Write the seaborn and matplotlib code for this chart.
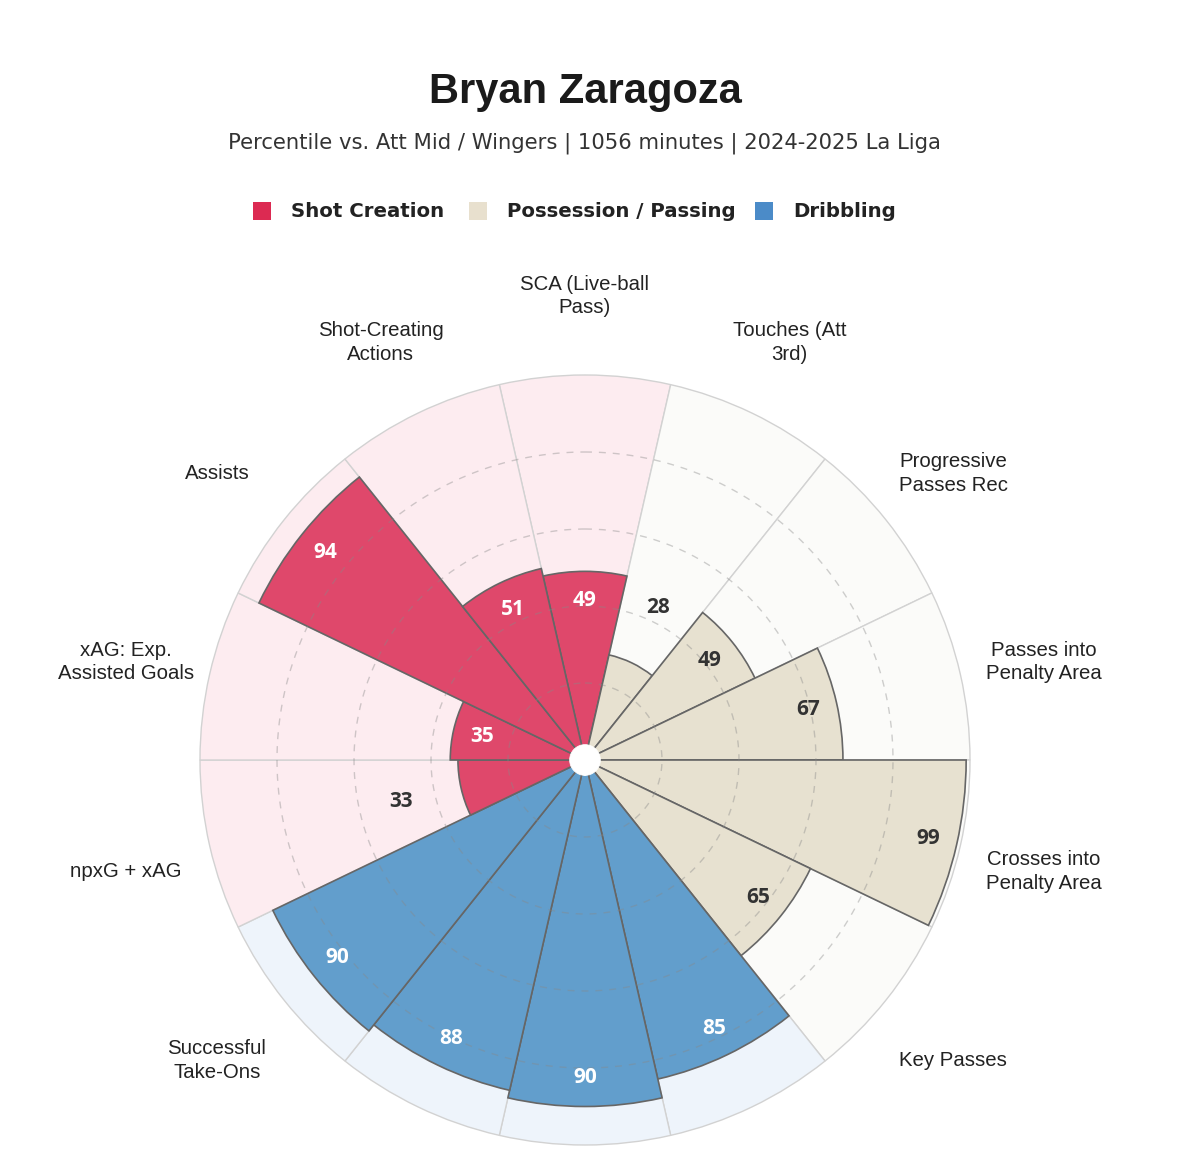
import numpy as np
import matplotlib.pyplot as plt
import seaborn as sns
from matplotlib.patches import Rectangle

sns.set_theme(style="white")
plt.rcParams['font.family'] = ['Liberation Sans', 'DejaVu Sans']

player = "Bryan Zaragoza"
subtitle = "Percentile vs. Att Mid / Wingers | 1056 minutes | 2024-2025 La Liga"

# clockwise from the top
stats = ["SCA (Live-ball\nPass)", "Touches (Att\n3rd)", "Progressive\nPasses Rec",
         "Passes into\nPenalty Area", "Crosses into\nPenalty Area", "Key Passes",
         "", "", "", "Successful\nTake-Ons", "npxG + xAG",
         "xAG: Exp.\nAssisted Goals", "Assists", "Shot-Creating\nActions"]
percentiles = [49, 28, 49, 67, 99, 65, 85, 90, 88, 90, 33, 35, 94, 51]
group_idx = [0, 1, 1, 1, 1, 1, 2, 2, 2, 2, 0, 0, 0, 0]
group_names = ["Shot Creation", "Possession / Passing", "Dribbling"]

bar_pal = sns.color_palette(["#DF486B", "#E7E1D0", "#629ECC"])
bg_pal = sns.color_palette(["#FDECF0", "#FBFBF9", "#EEF4FB"])
legend_pal = sns.color_palette(["#DC2A52", "#E8E0CE", "#4B8BC8"])

W, H = 1200, 1162
fig = plt.figure(figsize=(12, 11.62), dpi=100)
fig.patch.set_facecolor('white')

# polar axes: centre at (585, 760) px, r=100 -> 385 px
rmax = 102
R = 385 * rmax / 100
cx, cy = 585, H - 760
ax = fig.add_axes([(cx - R) / W, (cy - R) / H, 2 * R / W, 2 * R / H], projection='polar')
ax.set_theta_zero_location('N')
ax.set_theta_direction(-1)
ax.set_ylim(0, rmax)
ax.set_axis_off()

n = len(percentiles)
theta = np.arange(n) * 2 * np.pi / n
width = 2 * np.pi / n

ax.bar(theta, [100] * n, width=width, color=[bg_pal[g] for g in group_idx],
       edgecolor='#d2d2d2', linewidth=1, zorder=1)
ax.bar(theta, percentiles, width=width, color=[bar_pal[g] for g in group_idx],
       edgecolor='#666666', linewidth=1.2, zorder=2)

# dashed rings
t = np.linspace(0, 2 * np.pi, 500)
for r in [20, 40, 60, 80]:
    ax.plot(t, np.full_like(t, r), ls=(0, (5, 5)), color='#888888', alpha=0.4, lw=1, zorder=3)

# white hub
ax.bar(0, 4, width=2 * np.pi, color='white', edgecolor='white', linewidth=0.5, zorder=4)

for th, v, g in zip(theta, percentiles, group_idx):
    if v < 34:
        r, c = v + 16, '#333333'
    else:
        r, c = v - 7.6, ('#333333' if g == 1 else 'white')
    ax.text(th, r, str(v), ha='center', va='center', fontsize=15, fontweight='bold',
            family='Open Sans', color=c, zorder=5)

for th, lab in zip(theta, stats):
    ax.annotate(lab, xy=(th, 122.3), xytext=(0, -5), textcoords='offset points',
                ha='center', va='center', fontsize=14.7, color='#222222',
                linespacing=1.3, annotation_clip=False)

fig.text(585 / W, 1 - 92 / H, player, ha='center', va='center', fontsize=30,
         fontweight='bold', color='#1a1a1a')
fig.text(584 / W, 1 - 143 / H, subtitle, ha='center', va='center', fontsize=15.2,
         family='DejaVu Sans', color='#333333')

# legend
sq_x = [253, 469, 755]
txt_x = [291, 507, 793]
ly = 211
for i, name in enumerate(group_names):
    fig.add_artist(Rectangle((sq_x[i] / W, 1 - (ly + 9) / H), 18 / W, 18 / H,
                             transform=fig.transFigure, facecolor=legend_pal[i],
                             edgecolor='none'))
    fig.text(txt_x[i] / W, 1 - ly / H, name, ha='left', va='center', fontsize=14.2,
             fontweight='bold', family='DejaVu Sans', color='#222222')

fig.savefig('out.png', dpi=100, facecolor='white')
